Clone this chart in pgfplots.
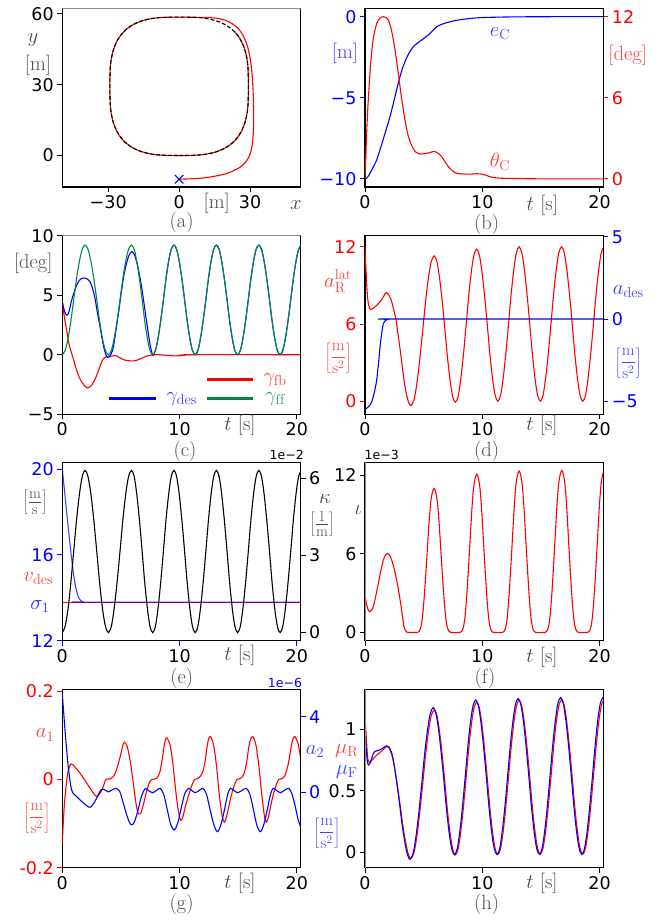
\documentclass[border=0pt]{standalone}
\usepackage{fontspec}
\usepackage{pgfplots}
\pgfplotsset{compat=1.18}
\newfontfamily\dv{DejaVu Sans}
\definecolor{mgreen}{RGB}{0,135,70}
\definecolor{lg}{gray}{0.3}
\definecolor{spg}{gray}{0.55}
\newcommand{\tfont}{\dv\fontsize{17.5}{17.5}\selectfont}
\newcommand{\lfont}{\fontsize{20.5}{22}\selectfont}
\newcommand{\lab}[4][lg]{\node[text=#1,font=\lfont,inner sep=0pt] at (#2pt,920pt-#3pt) {#4};}
\newcommand{\flab}[5][lg]{\node[text=#1,font=\fontsize{16.5}{18}\selectfont,inner sep=0pt] at (#2pt,920pt-#3pt) {$\displaystyle\left[\frac{\mathrm{#4}}{\mathrm{#5}}\right]$};}
\newcommand{\slab}[5][lg]{\node[text=#1,font=\fontsize{22}{24}\selectfont,inner sep=0pt] at (#2pt,920pt-#3pt) {$\left[\frac{\mathrm{#4}}{\mathrm{#5}}\right]$};}
\newcommand{\off}[4][black]{\node[text=#1,font=\dv\fontsize{12.5}{12.5}\selectfont,inner sep=0pt] at (#2pt,920pt-#3pt) {#4};}
\pgfplotsset{
  every axis/.append style={
    scale only axis, width=238.4pt, height=178.4pt, anchor=south west,
    axis line style={line width=1.1pt, black},
    tick align=outside, major tick length=5pt,
    tick style={line width=0.9pt, black},
    tick label style={font=\tfont},
    xtick pos=left, ytick pos=left,
  },
  tax/.style={xmin=0, xmax=20.33, xtick={0,10,20}, xticklabels={0,10,20}},
  rax/.style={axis y line*=right, axis x line=none, ytick pos=right},
  pl/.style={line width=1.1pt, smooth},
}
\begin{document}
\begin{tikzpicture}
\path[use as bounding box] (0pt,0pt) rectangle (669pt,920pt);

% ---------------- (a)
\begin{axis}[at={(62.3pt,733pt)}, xmin=-49.4, xmax=51.4, ymin=-13.3, ymax=62.2,
  xtick={-30,0,30}, xticklabels={−30,0,30}, ytick={0,30,60}, yticklabels={0,30,60}]
\addplot[red, pl] coordinates {(0,-10)(4.5,-9.85)(8.9,-9.6)(13,-9.1)(16.8,-8.4)(20.1,-7.6)(23,-6.4)(25.8,-4.9)(27.9,-3.0)(29.3,-1.0)(30.3,1.5)(30.9,4.5)(31.3,8.5)(31.5,13)(31.5,18)(31.4,23.6)(31.2,29)(30.9,33.5)(30.5,37.8)(29.9,41.8)(29.1,45.5)(28.0,48.8)(26.6,51.6)(24.7,54.0)(22.3,55.9)(19.4,57.3)(16.0,58.1)(11.9,58.4)(7.54,58.5)(0,58.6)(-7.54,58.43)(-11.9,57.93)(-15.44,57.09)(-18.46,55.92)(-21.05,54.41)(-23.26,52.56)(-25.11,50.35)(-26.62,47.76)(-27.79,44.74)(-28.63,41.2)(-29.13,36.84)(-29.3,29.3)(-29.13,21.76)(-28.63,17.4)(-27.79,13.86)(-26.62,10.84)(-25.11,8.25)(-23.26,6.04)(-21.05,4.19)(-18.46,2.68)(-15.44,1.51)(-11.9,0.67)(-7.54,0.17)(0,0)(7.54,0.17)(11.9,0.67)(15.44,1.51)(18.46,2.68)(21.05,4.19)(23.26,6.04)(25.11,8.25)(26.62,10.84)(27.79,13.86)(28.63,17.4)(29.13,21.76)(29.3,29.3)(29.13,36.84)(28.63,41.2)(27.79,44.74)(26.62,47.76)(25.11,50.35)(23.26,52.56)};
\addplot[black, pl, dash pattern=on 4pt off 2pt] coordinates {(0,0)(7.54,0.17)(11.9,0.67)(15.44,1.51)(18.46,2.68)(21.05,4.19)(23.26,6.04)(25.11,8.25)(26.62,10.84)(27.79,13.86)(28.63,17.4)(29.13,21.76)(29.3,29.3)(29.13,36.84)(28.63,41.2)(27.79,44.74)(26.62,47.76)(25.11,50.35)(23.26,52.56)(21.05,54.41)(18.46,55.92)(15.44,57.09)(11.9,57.93)(7.54,58.43)(0,58.6)(-7.54,58.43)(-11.9,57.93)(-15.44,57.09)(-18.46,55.92)(-21.05,54.41)(-23.26,52.56)(-25.11,50.35)(-26.62,47.76)(-27.79,44.74)(-28.63,41.2)(-29.13,36.84)(-29.3,29.3)(-29.13,21.76)(-28.63,17.4)(-27.79,13.86)(-26.62,10.84)(-25.11,8.25)(-23.26,6.04)(-21.05,4.19)(-18.46,2.68)(-15.44,1.51)(-11.9,0.67)(-7.54,0.17)(0,0)};
\addplot[only marks, blue, mark=x, mark size=6pt, mark options={line width=1.1pt}] coordinates {(0,-10)};
\draw[spg, line width=1.1pt] (rel axis cs:0,1) -- (rel axis cs:1,1);
\end{axis}
\lab{33}{40}{$y$}
\lab{38}{65}{[m]}
\lab{216.7}{203.3}{[m]}
\lab{296}{205}{$x$}
\lab{181.7}{222.5}{(a)}

% ---------------- (b)
\begin{axis}[at={(365pt,733pt)}, tax, ymin=-10.5, ymax=0.5, ytick={-10,-5,0}, yticklabels={−10,−5,0},
  yticklabel style={text=blue}, y tick style={blue}]
\addplot[blue, pl] coordinates {(0,-10)(0.2,-9.92)(0.43,-9.65)(0.7,-9.28)(1.0,-8.83)(1.35,-8.05)(1.71,-7.18)(2.0,-6.5)(2.28,-5.75)(2.55,-4.95)(2.84,-4.1)(3.1,-3.4)(3.41,-2.77)(3.75,-2.25)(4.12,-1.85)(4.5,-1.62)(4.84,-1.44)(5.2,-1.24)(5.55,-1.02)(5.85,-0.8)(6.12,-0.62)(6.5,-0.48)(6.97,-0.37)(7.6,-0.25)(8.39,-0.16)(9.1,-0.1)(9.81,-0.06)(11.2,-0.03)(13,-0.01)(16,0)(20.4,0)};
\end{axis}
\begin{axis}[at={(365pt,733pt)}, tax, rax, ymin=-0.6, ymax=12.6, ytick={0,6,12}, yticklabels={0,6,12},
  yticklabel style={text=red}, y tick style={red}]
\addplot[red, pl] coordinates {(0,0)(0.07,1.6)(0.14,3.38)(0.25,5.4)(0.37,7.08)(0.5,8.7)(0.65,10.03)(0.82,10.9)(1.0,11.5)(1.25,11.88)(1.56,12.0)(1.8,11.95)(1.99,11.76)(2.2,11.2)(2.42,10.28)(2.62,9.2)(2.84,7.81)(3.05,6.4)(3.27,5.1)(3.48,4.0)(3.7,3.13)(3.97,2.5)(4.27,2.02)(4.55,1.87)(4.84,1.83)(5.2,1.88)(5.55,1.95)(5.8,2.02)(5.97,2.02)(6.25,1.88)(6.54,1.65)(6.8,1.3)(7.11,0.91)(7.45,0.6)(7.82,0.42)(8.4,0.36)(9.0,0.35)(9.5,0.38)(9.81,0.37)(10.2,0.3)(10.6,0.18)(10.95,0.1)(11.6,0.05)(12.6,0.03)(14,0.01)(16,0)(20.4,0)};
\end{axis}
\lab[blue!75]{345}{53.3}{[m]}
\lab[red!75]{627.7}{55}{[deg]}
\lab[blue!75]{500}{33.3}{$e_{\mathrm{C}}$}
\lab[red!75]{500}{161.7}{$\theta_{\mathrm{C}}$}
\lab{542.3}{205}{$t$ [s]}
\lab{486.7}{224}{(b)}

% ---------------- (c)
\begin{axis}[at={(62.3pt,505.8pt)}, tax, ymin=-5, ymax=10, ytick={-5,0,5,10}, yticklabels={−5,0,5,10}]
\addplot[red, pl] coordinates {(0,4.5)(0.1,3.7)(0.22,2.91)(0.38,2.0)(0.51,1.23)(0.65,0.6)(0.8,0.11)(1.0,-0.55)(1.22,-1.3)(1.45,-1.9)(1.65,-2.28)(1.9,-2.62)(2.14,-2.79)(2.35,-2.72)(2.51,-2.56)(2.72,-2.2)(2.94,-1.72)(3.15,-1.15)(3.36,-0.6)(3.55,-0.3)(3.79,-0.15)(4.0,-0.13)(4.22,-0.12)(4.45,-0.07)(4.65,-0.1)(4.9,-0.25)(5.15,-0.38)(5.4,-0.47)(5.7,-0.51)(6.08,-0.52)(6.4,-0.45)(6.8,-0.28)(7.1,-0.15)(7.5,-0.05)(7.9,0)(8.35,0)(8.9,-0.05)(9.4,-0.09)(9.77,-0.1)(10.3,-0.06)(10.9,0)(20.4,0)};
\addplot[blue, pl] coordinates {(0,4.45)(0.15,3.8)(0.28,3.42)(0.4,3.33)(0.55,3.55)(0.8,4.59)(1.0,5.2)(1.22,5.85)(1.45,6.25)(1.65,6.42)(1.94,6.45)(2.15,6.35)(2.37,6.13)(2.6,5.5)(2.79,4.73)(3.0,3.5)(3.22,2.34)(3.4,1.3)(3.56,0.53)(3.7,0.05)(3.85,-0.22)(3.98,-0.2)(4.1,-0.05)(4.2,0.15)(4.36,0.66)(4.55,1.9)(4.79,3.47)(5.0,5.0)(5.21,6.42)(5.42,7.45)(5.64,8.23)(5.8,8.55)(5.93,8.68)(6.13,8.45)(6.35,7.77)(6.58,6.72)(6.81,5.40)(7.03,3.87)(7.26,2.30)(7.48,0.89)(7.71,-0.02)(7.94,0.351)(8.16,1.35)(8.39,2.846)(8.62,4.61)(8.84,6.374)(9.07,7.87)(9.29,8.869)(9.52,9.22)(9.75,8.869)(9.97,7.87)(10.20,6.374)(10.43,4.61)(10.65,2.846)(10.88,1.35)(11.10,0.351)(11.33,0)(11.56,0.351)(11.78,1.35)(12.01,2.846)(12.24,4.61)(12.46,6.374)(12.69,7.87)(12.91,8.869)(13.14,9.22)(13.37,8.869)(13.59,7.87)(13.82,6.374)(14.05,4.61)(14.27,2.846)(14.50,1.35)(14.72,0.351)(14.95,0)(15.18,0.351)(15.40,1.35)(15.63,2.846)(15.86,4.61)(16.08,6.374)(16.31,7.87)(16.53,8.869)(16.76,9.22)(16.99,8.869)(17.21,7.87)(17.44,6.374)(17.67,4.61)(17.89,2.846)(18.12,1.35)(18.34,0.351)(18.57,0)(18.80,0.351)(19.02,1.35)(19.25,2.846)(19.48,4.61)(19.70,6.374)(19.93,7.87)(20.15,8.869)(20.38,9.22)};
\addplot[mgreen, pl] coordinates {(0,0)(0.24,0.351)(0.49,1.35)(0.73,2.846)(0.97,4.61)(1.21,6.374)(1.46,7.87)(1.70,8.869)(1.94,9.22)(2.19,8.869)(2.44,7.87)(2.69,6.374)(2.94,4.61)(3.18,2.846)(3.43,1.35)(3.68,0.351)(3.93,0)(4.18,0.351)(4.42,1.35)(4.67,2.846)(4.92,4.61)(5.16,6.374)(5.41,7.87)(5.65,8.869)(5.90,9.22)(6.13,8.869)(6.35,7.87)(6.58,6.374)(6.81,4.61)(7.03,2.846)(7.26,1.35)(7.48,0.351)(7.71,0)(7.94,0.351)(8.16,1.35)(8.39,2.846)(8.62,4.61)(8.84,6.374)(9.07,7.87)(9.29,8.869)(9.52,9.22)(9.75,8.869)(9.97,7.87)(10.20,6.374)(10.43,4.61)(10.65,2.846)(10.88,1.35)(11.10,0.351)(11.33,0)(11.56,0.351)(11.78,1.35)(12.01,2.846)(12.24,4.61)(12.46,6.374)(12.69,7.87)(12.91,8.869)(13.14,9.22)(13.37,8.869)(13.59,7.87)(13.82,6.374)(14.05,4.61)(14.27,2.846)(14.50,1.35)(14.72,0.351)(14.95,0)(15.18,0.351)(15.40,1.35)(15.63,2.846)(15.86,4.61)(16.08,6.374)(16.31,7.87)(16.53,8.869)(16.76,9.22)(16.99,8.869)(17.21,7.87)(17.44,6.374)(17.67,4.61)(17.89,2.846)(18.12,1.35)(18.34,0.351)(18.57,0)(18.80,0.351)(19.02,1.35)(19.25,2.846)(19.48,4.61)(19.70,6.374)(19.93,7.87)(20.15,8.869)(20.38,9.22)};
\draw[spg, line width=1.1pt] (rel axis cs:0,1) -- (rel axis cs:1,1);
\end{axis}
\draw[red, line width=3pt] (207.3pt,920pt-379.3pt) -- (253.3pt,920pt-379.3pt);
\draw[blue, line width=3pt] (109.3pt,920pt-398.3pt) -- (155.7pt,920pt-398.3pt);
\draw[mgreen, line width=3pt] (207.3pt,920pt-398.3pt) -- (253.3pt,920pt-398.3pt);
\lab[red!75]{275}{380}{$\gamma_{\mathrm{fb}}$}
\lab[blue!75]{181.7}{399}{$\gamma_{\mathrm{des}}$}
\lab[mgreen!80]{275}{399}{$\gamma_{\mathrm{ff}}$}
\lab{33.3}{263.3}{[deg]}
\lab{240}{425}{$t$ [s]}
\lab{185}{451}{(c)}

% ---------------- (d)
\begin{axis}[at={(365pt,505.8pt)}, tax, ymin=-1.01, ymax=12.86, ytick={0,6,12}, yticklabels={0,6,12},
  yticklabel style={text=red}, y tick style={red}]
\addplot[red, pl] coordinates {(0,11.9)(0.07,10.5)(0.14,9.15)(0.21,8.2)(0.28,7.6)(0.4,7.2)(0.49,7.13)(0.65,7.2)(0.85,7.33)(1.05,7.5)(1.28,7.72)(1.5,8.0)(1.71,8.37)(1.85,8.45)(2.0,8.3)(2.15,8.05)(2.28,7.72)(2.45,7.1)(2.65,6.3)(2.82,5.2)(3.0,3.97)(3.17,2.75)(3.33,1.63)(3.5,0.7)(3.7,-0.05)(3.83,-0.28)(3.93,-0.34)(4.18,0.10)(4.42,1.36)(4.67,3.25)(4.92,5.48)(5.16,7.71)(5.41,9.60)(5.65,10.86)(5.90,11.3)(6.13,10.87)(6.35,9.63)(6.58,7.79)(6.81,5.61)(7.03,3.43)(7.26,1.59)(7.48,0.35)(7.71,-0.08)(7.94,0.37)(8.16,1.66)(8.39,3.59)(8.62,5.87)(8.84,8.15)(9.07,10.08)(9.29,11.37)(9.52,11.82)(9.75,11.37)(9.97,10.09)(10.20,8.17)(10.43,5.91)(10.65,3.65)(10.88,1.73)(11.10,0.45)(11.33,0)(11.56,0.457)(11.78,1.757)(12.01,3.704)(12.24,6)(12.46,8.296)(12.69,10.243)(12.91,11.543)(13.14,12)(13.37,11.543)(13.59,10.243)(13.82,8.296)(14.05,6)(14.27,3.704)(14.50,1.757)(14.72,0.457)(14.95,0)(15.18,0.457)(15.40,1.757)(15.63,3.704)(15.86,6)(16.08,8.296)(16.31,10.243)(16.53,11.543)(16.76,12)(16.99,11.543)(17.21,10.243)(17.44,8.296)(17.67,6)(17.89,3.704)(18.12,1.757)(18.34,0.457)(18.57,0)(18.80,0.457)(19.02,1.757)(19.25,3.704)(19.48,6)(19.70,8.296)(19.93,10.243)(20.15,11.543)(20.38,12)};
\end{axis}
\begin{axis}[at={(365pt,505.8pt)}, tax, rax, ymin=-5.79, ymax=5.06, ytick={-5,0,5}, yticklabels={−5,0,5},
  yticklabel style={text=blue}, y tick style={blue}]
\addplot[blue, pl] coordinates {(0,-5.5)(0.2,-5.4)(0.4,-5.25)(0.57,-5.04)(0.75,-4.6)(0.9,-4.1)(1.0,-3.7)(1.15,-2.7)(1.28,-1.72)(1.42,-0.9)(1.56,-0.3)(1.7,-0.12)(1.85,-0.05)(1.99,-0.02)(2.3,0)(20.4,0)};
\end{axis}
\lab[red!75]{338}{281}{$a_{\mathrm{R}}^{\mathrm{lat}}$}
\flab[red!75]{338.3}{358.3}{m}{s^2}
\lab[blue!75]{628.3}{291.7}{$a_{\mathrm{des}}$}
\flab[blue!75]{628.3}{363.3}{m}{s^2}
\lab{542}{425}{$t$ [s]}
\lab{486.7}{451}{(d)}

% ---------------- (e)
\begin{axis}[at={(62.3pt,279.3pt)}, tax, ymin=12, ymax=20.31, ytick={12,16,20}, yticklabels={12,16,20},
  yticklabel style={text=blue}, y tick style={blue}, x tick style={blue}]
\addplot[red, line width=1.1pt] coordinates {(0,13.8)(20.4,13.8)};
\addplot[blue, pl, opacity=0.75] coordinates {(0,20)(0.2,18.92)(0.4,17.84)(0.6,16.78)(0.8,15.8)(1.0,14.95)(1.2,14.35)(1.4,14.0)(1.6,13.86)(1.8,13.81)(2.0,13.8)(20.4,13.8)};
\end{axis}
\begin{axis}[at={(62.3pt,279.3pt)}, tax, rax, ymin=-0.316, ymax=6.636, ytick={0,3,6}, yticklabels={0,3,6}]
\addplot[black, pl] coordinates {(0,0)(0.24,0.241)(0.49,0.925)(0.73,1.951)(0.97,3.16)(1.21,4.369)(1.46,5.395)(1.70,6.079)(1.94,6.32)(2.19,6.079)(2.44,5.395)(2.69,4.369)(2.94,3.16)(3.18,1.951)(3.43,0.925)(3.68,0.241)(3.93,0)(4.18,0.241)(4.42,0.925)(4.67,1.951)(4.92,3.16)(5.16,4.369)(5.41,5.395)(5.65,6.079)(5.90,6.32)(6.13,6.079)(6.35,5.395)(6.58,4.369)(6.81,3.16)(7.03,1.951)(7.26,0.925)(7.48,0.241)(7.71,0)(7.94,0.241)(8.16,0.925)(8.39,1.951)(8.62,3.16)(8.84,4.369)(9.07,5.395)(9.29,6.079)(9.52,6.32)(9.75,6.079)(9.97,5.395)(10.20,4.369)(10.43,3.16)(10.65,1.951)(10.88,0.925)(11.10,0.241)(11.33,0)(11.56,0.241)(11.78,0.925)(12.01,1.951)(12.24,3.16)(12.46,4.369)(12.69,5.395)(12.91,6.079)(13.14,6.32)(13.37,6.079)(13.59,5.395)(13.82,4.369)(14.05,3.16)(14.27,1.951)(14.50,0.925)(14.72,0.241)(14.95,0)(15.18,0.241)(15.40,0.925)(15.63,1.951)(15.86,3.16)(16.08,4.369)(16.31,5.395)(16.53,6.079)(16.76,6.32)(16.99,6.079)(17.21,5.395)(17.44,4.369)(17.67,3.16)(17.89,1.951)(18.12,0.925)(18.34,0.241)(18.57,0)(18.80,0.241)(19.02,0.925)(19.25,1.951)(19.48,3.16)(19.70,4.369)(19.93,5.395)(20.15,6.079)(20.38,6.32)};
\end{axis}
\slab{35}{502}{m}{s}
\lab[red!75]{38.3}{578.3}{$v_{\mathrm{des}}$}
\lab[blue!85]{40}{606.7}{$\sigma_1$}
\off{286.7}{455}{1e−2}
\lab{325}{499}{$\kappa$}
\slab{322}{524}{1}{m}
\lab{240}{655}{$t$ [s]}
\lab{181.7}{678}{(e)}

% ---------------- (f)
\begin{axis}[at={(365pt,279.3pt)}, tax, ymin=-0.63, ymax=12.97, ytick={0,6,12}, yticklabels={0,6,12}]
\addplot[red, pl] coordinates {(0,2.97)(0.1,2.3)(0.2,1.9)(0.37,1.58)(0.55,1.7)(0.71,1.96)(0.9,2.7)(1.14,3.73)(1.35,4.7)(1.56,5.51)(1.75,5.9)(1.91,6.02)(2.08,5.9)(2.28,5.51)(2.5,4.8)(2.7,3.99)(2.9,3.0)(3.04,2.21)(3.2,1.2)(3.33,0.43)(3.45,0.15)(3.56,0.03)(3.7,0)(4.48,0)(4.62,0.09)(4.76,0.40)(4.89,1.10)(5.03,2.47)(5.18,4.39)(5.32,6.37)(5.46,8.34)(5.60,9.88)(5.74,10.65)(5.89,10.98)(6.04,10.65)(6.18,9.88)(6.32,8.34)(6.46,6.37)(6.60,4.39)(6.75,2.47)(6.89,1.10)(7.02,0.40)(7.16,0.09)(7.30,0)(8.12,0)(8.26,0.10)(8.40,0.43)(8.53,1.21)(8.67,2.72)(8.82,4.83)(8.96,7.0)(9.10,9.17)(9.24,10.86)(9.38,11.71)(9.53,12.07)(9.68,11.71)(9.82,10.86)(9.96,9.17)(10.10,7.0)(10.24,4.83)(10.39,2.72)(10.53,1.21)(10.66,0.43)(10.80,0.10)(10.94,0)(11.73,0)(11.87,0.10)(12.01,0.44)(12.14,1.23)(12.28,2.77)(12.43,4.92)(12.57,7.13)(12.71,9.35)(12.85,11.07)(12.99,11.93)(13.14,12.3)(13.29,11.93)(13.43,11.07)(13.57,9.35)(13.71,7.13)(13.85,4.92)(14.00,2.77)(14.14,1.23)(14.27,0.44)(14.41,0.10)(14.55,0)(15.37,0)(15.51,0.10)(15.65,0.44)(15.78,1.24)(15.92,2.78)(16.07,4.94)(16.21,7.16)(16.35,9.39)(16.49,11.12)(16.63,11.98)(16.78,12.35)(16.93,11.98)(17.07,11.12)(17.21,9.39)(17.35,7.16)(17.49,4.94)(17.64,2.78)(17.78,1.24)(17.91,0.44)(18.05,0.10)(18.19,0)(18.99,0)(19.13,0.10)(19.27,0.44)(19.40,1.24)(19.54,2.78)(19.69,4.94)(19.83,7.16)(19.97,9.39)(20.11,11.12)(20.25,11.98)(20.40,12.35)};
\draw[spg, line width=1.1pt] (rel axis cs:0,0) -- (rel axis cs:0,1);
\end{axis}
\lab{358.3}{510}{$\iota$}
\off{381.7}{455}{1e−3}
\lab{542}{657}{$t$ [s]}
\lab{485}{678}{(f)}

% ---------------- (g)
\begin{axis}[at={(62.3pt,52.3pt)}, tax, ymin=-0.2, ymax=0.204, ytick={-0.2,0,0.2}, yticklabels={-0.2,0,0.2},
  yticklabel style={text=red}, y tick style={red}]
\addplot[red, pl] coordinates {(0,-0.146)(0.1,-0.09)(0.23,-0.04)(0.46,0.013)(0.74,0.035)(1.08,0.028)(1.65,0.009)(2.22,-0.014)(2.79,-0.036)(3.05,-0.037)(3.36,-0.025)(3.6,-0.008)(3.73,0)(4.07,0.001)(4.3,0.005)(4.5,0.013)(4.72,0.03)(4.93,0.051)(5.21,0.081)(5.35,0.083)(5.5,0.077)(5.7,0.055)(5.87,0.028)(6.05,-0.008)(6.21,-0.04)(6.35,-0.065)(6.5,-0.078)(6.65,-0.078)(6.78,-0.07)(7.0,-0.048)(7.21,-0.025)(7.45,-0.006)(7.64,0)(7.9,0.001)(8.07,0.003)(8.22,0.01)(8.35,0.02)(8.5,0.042)(8.63,0.066)(8.78,0.088)(8.92,0.094)(9.05,0.088)(9.2,0.077)(9.35,0.052)(9.49,0.02)(9.63,-0.015)(9.77,-0.048)(9.95,-0.08)(10.11,-0.093)(10.28,-0.085)(10.48,-0.063)(10.7,-0.042)(10.91,-0.025)(11.1,-0.01)(11.28,0)(11.45,0.001)(11.62,0.003)(11.85,0.01)(12.05,0.024)(12.2,0.045)(12.34,0.073)(12.48,0.092)(12.62,0.097)(12.77,0.09)(12.91,0.077)(13.05,0.052)(13.19,0.02)(13.33,-0.02)(13.48,-0.055)(13.65,-0.085)(13.82,-0.097)(14.0,-0.085)(14.19,-0.063)(14.36,-0.042)(14.53,-0.025)(14.72,-0.01)(14.9,0)(15.07,0.001)(15.24,0.003)(15.45,0.01)(15.61,0.024)(15.76,0.045)(15.9,0.073)(16.07,0.092)(16.24,0.097)(16.38,0.09)(16.52,0.077)(16.66,0.052)(16.81,0.02)(16.95,-0.02)(17.1,-0.055)(17.25,-0.085)(17.41,-0.097)(17.58,-0.085)(17.75,-0.063)(17.92,-0.042)(18.09,-0.025)(18.28,-0.01)(18.46,0)(18.65,0.001)(18.83,0.003)(19.0,0.01)(19.17,0.024)(19.34,0.045)(19.51,0.073)(19.67,0.092)(19.83,0.097)(19.97,0.09)(20.11,0.081)(20.25,0.06)(20.37,0.043)};
\end{axis}
\begin{axis}[at={(62.3pt,52.3pt)}, tax, rax, ymin=-3.97, ymax=5.45, ytick={-4,0,4}, yticklabels={−4,0,4},
  yticklabel style={text=blue}, y tick style={blue}]
\addplot[blue, pl] coordinates {(0,5.23)(0.23,3.3)(0.5,1.4)(0.8,0.13)(1.2,-0.2)(1.8,-0.55)(2.37,-0.78)(2.8,-0.45)(3.2,0.05)(3.45,0.18)(3.7,0.12)(3.93,0.03)(4.2,0.12)(4.59,0.22)(4.9,0.05)(5.2,-0.55)(5.5,-1.2)(5.75,-1.6)(5.93,-1.71)(6.15,-1.55)(6.45,-0.95)(6.75,-0.2)(7.07,0.2)(7.35,0.1)(7.72,-0.01)(8.05,0.12)(8.35,0.22)(8.65,-0.1)(8.95,-0.9)(9.25,-1.7)(9.55,-1.98)(9.85,-1.6)(10.15,-0.8)(10.45,-0.05)(10.77,0.22)(11.05,0.1)(11.34,-0.01)(11.7,0.12)(12.0,0.22)(12.3,-0.1)(12.6,-0.9)(12.95,-1.75)(13.25,-2.07)(13.55,-1.65)(13.85,-0.85)(14.1,-0.1)(14.33,0.22)(14.65,0.1)(14.96,-0.01)(15.35,0.12)(15.7,0.22)(16.0,-0.1)(16.3,-0.9)(16.6,-1.75)(16.9,-2.07)(17.2,-1.65)(17.5,-0.85)(17.75,-0.1)(17.98,0.22)(18.3,0.1)(18.61,-0.01)(18.95,0.12)(19.32,0.22)(19.6,-0.1)(19.85,-0.7)(20.1,-1.4)(20.37,-1.89)};
\end{axis}
\lab[red!75]{45}{735}{$a_1$}
\flab[red!75]{36.7}{818.3}{m}{s^2}
\lab[blue!75]{315}{751.7}{$a_2$}
\flab[blue!75]{326.7}{833.3}{m}{s^2}
\off[blue]{285}{682.7}{1e−6}
\lab{240}{883.3}{$t$ [s]}
\lab{181.7}{904}{(g)}

% ---------------- (h)
\begin{axis}[at={(365pt,52.3pt)}, tax, ymin=-0.125, ymax=1.325, ytick={0,0.5,1}, yticklabels={0,0.5,1}]
\addplot[red, pl] coordinates {(0,1.12)(0.1,0.95)(0.2,0.8)(0.28,0.74)(0.4,0.73)(0.6,0.75)(1.0,0.79)(1.5,0.83)(1.85,0.86)(2.1,0.84)(2.4,0.75)(2.7,0.58)(3.0,0.38)(3.3,0.17)(3.6,0.02)(3.8,-0.04)(3.93,-0.049)(4.18,-0.003)(4.42,0.128)(4.67,0.323)(4.92,0.554)(5.16,0.785)(5.41,0.980)(5.65,1.111)(5.90,1.157)(6.13,1.112)(6.35,0.985)(6.58,0.794)(6.81,0.569)(7.03,0.343)(7.26,0.152)(7.48,0.025)(7.71,-0.02)(7.94,0.027)(8.16,0.162)(8.39,0.363)(8.62,0.600)(8.84,0.837)(9.07,1.038)(9.29,1.173)(9.52,1.22)(9.75,1.173)(9.97,1.039)(10.20,0.838)(10.43,0.601)(10.65,0.364)(10.88,0.163)(11.10,0.029)(11.33,-0.018)(11.56,0.030)(11.78,0.165)(12.01,0.369)(12.24,0.609)(12.46,0.848)(12.69,1.052)(12.91,1.187)(13.14,1.235)(13.37,1.187)(13.59,1.052)(13.82,0.849)(14.05,0.610)(14.27,0.370)(14.50,0.167)(14.72,0.032)(14.95,-0.016)(15.18,0.032)(15.40,0.168)(15.63,0.372)(15.86,0.612)(16.08,0.852)(16.31,1.056)(16.53,1.192)(16.76,1.24)(16.99,1.192)(17.21,1.056)(17.44,0.852)(17.67,0.612)(17.89,0.372)(18.12,0.168)(18.34,0.032)(18.57,-0.016)(18.80,0.032)(19.02,0.168)(19.25,0.372)(19.48,0.612)(19.70,0.852)(19.93,1.056)(20.15,1.192)(20.38,1.24)};
\addplot[blue, pl] coordinates {(0,1.05)(0.1,0.85)(0.2,0.74)(0.3,0.71)(0.45,0.73)(0.7,0.8)(0.85,0.82)(1.2,0.83)(1.5,0.845)(1.8,0.865)(2.0,0.86)(2.3,0.8)(2.6,0.64)(2.9,0.43)(3.2,0.2)(3.5,0.03)(3.7,-0.04)(3.85,-0.057)(4.10,-0.010)(4.34,0.124)(4.59,0.324)(4.84,0.560)(5.08,0.795)(5.33,0.995)(5.57,1.129)(5.82,1.176)(6.05,1.130)(6.27,1.001)(6.50,0.807)(6.73,0.578)(6.95,0.349)(7.18,0.155)(7.40,0.026)(7.63,-0.02)(7.86,0.028)(8.08,0.164)(8.31,0.368)(8.54,0.609)(8.76,0.850)(8.99,1.054)(9.21,1.190)(9.44,1.238)(9.67,1.190)(9.89,1.054)(10.12,0.850)(10.35,0.610)(10.57,0.370)(10.80,0.166)(11.02,0.030)(11.25,-0.018)(11.48,0.030)(11.70,0.168)(11.93,0.373)(12.16,0.616)(12.38,0.859)(12.61,1.064)(12.83,1.202)(13.06,1.25)(13.29,1.202)(13.51,1.065)(13.74,0.859)(13.97,0.617)(14.19,0.375)(14.42,0.169)(14.64,0.032)(14.87,-0.016)(15.10,0.032)(15.32,0.170)(15.55,0.377)(15.78,0.621)(16.00,0.864)(16.23,1.071)(16.45,1.209)(16.68,1.257)(16.91,1.209)(17.13,1.071)(17.36,0.864)(17.59,0.621)(17.81,0.377)(18.04,0.170)(18.26,0.032)(18.49,-0.016)(18.72,0.032)(18.94,0.170)(19.17,0.378)(19.40,0.622)(19.62,0.866)(19.85,1.074)(20.07,1.212)(20.30,1.26)(20.45,1.25)};
\draw[spg, line width=1.1pt] (rel axis cs:0,0) -- (rel axis cs:0,1);
\end{axis}
\lab[red!75]{346.7}{751}{$\mu_{\mathrm{R}}$}
\lab[blue!75]{346.7}{772}{$\mu_{\mathrm{F}}$}
\lab{542}{883}{$t$ [s]}
\lab{486.7}{904}{(h)}
\end{tikzpicture}
\end{document}
